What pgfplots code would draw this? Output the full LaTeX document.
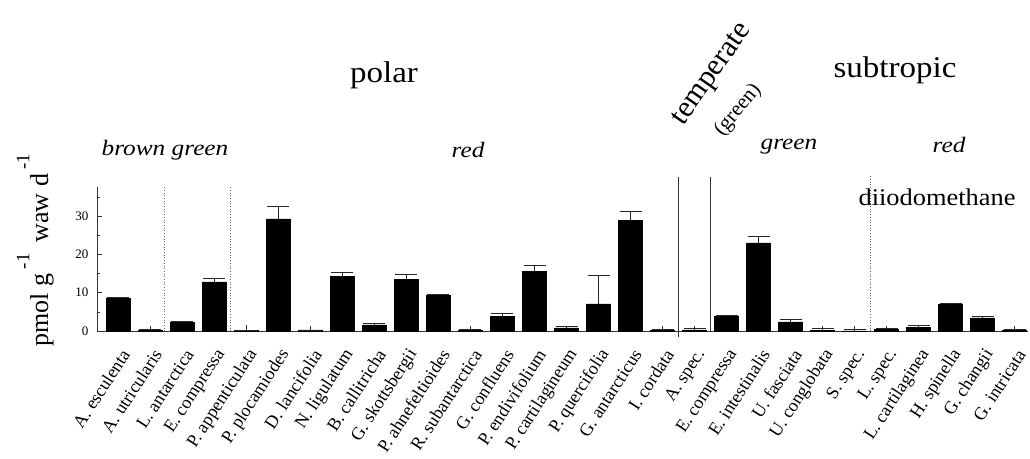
\documentclass[border=0pt]{standalone}
\usepackage{pgfplots}
\pgfplotsset{compat=1.18}
\usepackage{pgfplotstable}
\usepackage{fontspec}
\setmainfont{Liberation Serif}

\pgfplotstableread{
x y e
0 8.5 0.3
1 0.15 0.3
2 2.3 0.2
3 12.8 1.0
4 0.2 0.0
5 29.3 3.3
6 0.3 0.0
7 14.2 1.0
8 1.6 0.3
9 13.4 1.4
10 9.4 0.2
11 0.2 0.2
12 3.9 0.6
13 15.6 1.6
14 0.8 0.3
15 7.1 7.4
16 28.9 2.4
17 0.2 0.2
18 0.3 0.4
19 3.9 0.2
20 23.0 1.6
21 2.4 0.7
22 0.1 0.6
23 0.05 0.3
24 0.4 0.4
25 0.9 0.5
26 6.9 0.2
27 3.4 0.5
28 0.3 0.2
}\datatable

\begin{document}
\begin{tikzpicture}[x=1pt,y=1pt]
\useasboundingbox (0,0) rectangle (1030,458);
\begin{axis}[
  at={(97pt,127pt)}, anchor=south west,
  scale only axis, width=931pt, height=144pt,
  xmin=-0.67, xmax=28.42, ymin=0, ymax=37.6,
  clip=false,
  axis lines*=left,
  axis line style={black!80, line width=0.7pt},
  ybar, bar width=24pt,
  xtick=data,
  xticklabels={A. esculenta, A. utricularis, L. antarctica, E. compressa, P. appenticulata, P. plocamiodes, D. lancifolia, N. ligulatum, B. callitricha, G. skottsbergii, P. ahnefeltioides, R. subantarctica, G. confluens, P. endivifolium, P. cartilagineum, P. quercifolia, G. antarcticus, I. cordata, A. spec., E. compressa, E. intestinalis, U. fasciata, U. conglobata, S. spec., L. spec., L. cartilaginea, H. spinella, G. changii, G. intricata},
  xticklabel style={rotate=57, anchor=east, inner sep=0pt, yshift=-17pt, xshift=-13pt, font=\fontsize{18}{18}\selectfont},
  ytick={0,10,20,30}, minor ytick={5,15,25,35},
  yticklabel style={font=\fontsize{13}{13}\selectfont, xshift=-5pt},
  /pgf/number format/assume math mode=true,
  tick align=inside,
  major tick length=5pt, minor tick length=3pt,
  tick style={black!80, line width=0.6pt},
]
\addplot[fill=black, draw=black, line width=0.4pt,
  error bars/.cd, y dir=plus, y explicit,
  error bar style={black!85, line width=0.7pt},
  error mark options={rotate=90, black!85, mark size=11pt, line width=0.7pt}]
  table[x=x, y=y, y error=e] {\datatable};
\draw[black!60, dotted, line width=0.7pt] (axis cs:1.42,0) -- (axis cs:1.42,37.8);
\draw[black!60, dotted, line width=0.7pt] (axis cs:3.5,0) -- (axis cs:3.5,37.8);
\draw[black!80, line width=0.7pt] (axis cs:17.5,-1.6) -- (axis cs:17.5,40.3);
\draw[black!80, line width=0.7pt] (axis cs:18.5,0) -- (axis cs:18.5,40.3);
\draw[black!60, dotted, line width=0.7pt] (axis cs:23.5,0) -- (axis cs:23.5,40.6);
\draw[black!80, line width=0.7pt] (axis cs:4,0) -- (axis cs:4,1.6);
\end{axis}
% annotations (pixel coordinates, y measured from bottom)
\node[font=\fontsize{30}{30}\selectfont, xscale=1.1] at (384,383) {polar};
\node[font=\fontsize{30}{30}\selectfont, xscale=1.1] at (895,388) {subtropic};
\node[font=\fontsize{30}{30}\selectfont, rotate=55] at (713,383) {temperate};
\node[font=\fontsize{21}{21}\selectfont, rotate=50] at (738,348) {(green)};
\node[font=\fontsize{22}{22}\selectfont\itshape, xscale=1.15] at (165,308) {brown green};
\node[font=\fontsize{22}{22}\selectfont\itshape, xscale=1.15] at (468,308) {red};
\node[font=\fontsize{22}{22}\selectfont\itshape, xscale=1.15] at (789,311) {green};
\node[font=\fontsize{22}{22}\selectfont\itshape, xscale=1.15] at (949,313) {red};
\node[font=\fontsize{24}{24}\selectfont, xscale=1.1] at (937,261) {diiodomethane};
\node[font=\fontsize{26}{26}\selectfont, rotate=90, anchor=base, inner sep=0pt] at (48,208)
  {pmol g\,\raisebox{0.72em}{\fontsize{19}{19}\selectfont -1}\, waw d\,\raisebox{0.72em}{\fontsize{19}{19}\selectfont -1}};
\end{tikzpicture}
\end{document}
